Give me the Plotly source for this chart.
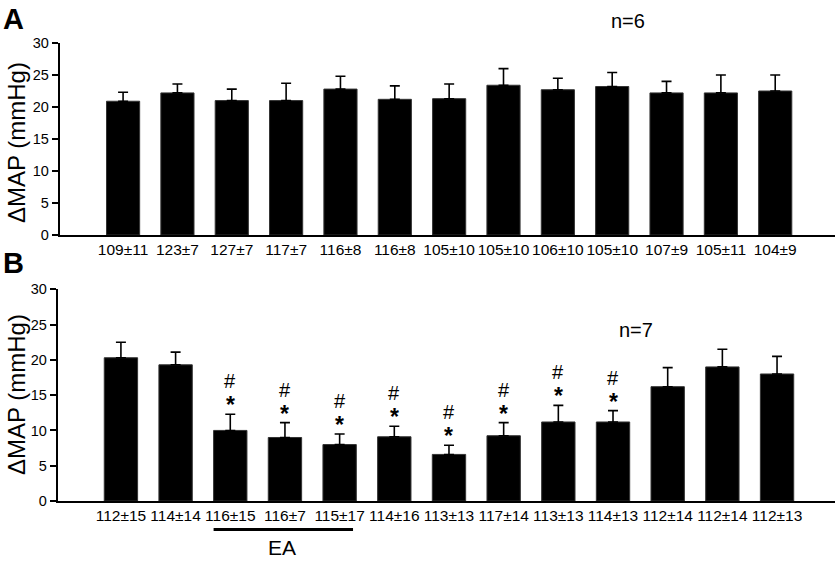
import plotly.graph_objects as go

labels_a = ["109±11", "123±7", "127±7", "117±7", "116±8", "116±8", "105±10",
            "105±10", "106±10", "105±10", "107±9", "105±11", "104±9"]
values_a = [20.9, 22.2, 21.0, 21.0, 22.8, 21.2, 21.3, 23.4, 22.7, 23.2, 22.2, 22.2, 22.5]
err_a = [1.4, 1.4, 1.8, 2.7, 2.0, 2.1, 2.3, 2.6, 1.8, 2.2, 1.8, 2.8, 2.5]

labels_b = ["112±15", "114±14", "116±15", "116±7", "115±17", "114±16", "113±13",
            "117±14", "113±13", "114±13", "112±14", "112±14", "112±13"]
values_b = [20.3, 19.3, 10.0, 9.0, 8.0, 9.1, 6.6, 9.25, 11.2, 11.2, 16.2, 19.0, 18.0]
err_b = [2.2, 1.8, 2.3, 2.1, 1.5, 1.5, 1.3, 1.85, 2.35, 1.6, 2.7, 2.5, 2.5]
sig_b = [False, False, True, True, True, True, True, True, True, True, False, False, False]
ea_range = [2, 4]

FONT = "Liberation Sans, Arial, sans-serif"
W, H = 836, 561
xs = list(range(len(values_a)))

fig = go.Figure()
for vals, errs, xa, ya in [(values_a, err_a, "x", "y"), (values_b, err_b, "x2", "y2")]:
    fig.add_trace(go.Bar(
        x=xs, y=vals, width=0.61, xaxis=xa, yaxis=ya,
        marker=dict(color="black", line=dict(color="#333333", width=1)),
        error_y=dict(type="data", symmetric=False, array=errs, arrayminus=[0] * len(errs),
                     color="black", thickness=1.6, width=5),
        showlegend=False, hoverinfo="skip",
    ))

def px_y(p):
    return 1 - p / H

axis_common = dict(showline=True, linecolor="black", linewidth=1.5, showgrid=False,
                   zeroline=False, automargin=False)
fig.update_layout(
    width=W, height=H, margin=dict(l=0, r=0, t=0, b=0, autoexpand=False),
    paper_bgcolor="white", plot_bgcolor="white", bargap=0.39,
    font=dict(family=FONT, color="black"),
    xaxis=dict(domain=[59.5 / W, 835 / W], range=[-1.17, 13.1], anchor="y",
               tickvals=xs, ticktext=labels_a, ticks="", tickfont=dict(size=15.5),
               **axis_common),
    yaxis=dict(domain=[px_y(235), px_y(43)], range=[0, 30], dtick=5, anchor="x",
               ticks="outside", ticklen=6, tickwidth=1.5, tickcolor="black",
               tickfont=dict(size=14.5), **axis_common),
    xaxis2=dict(domain=[57.5 / W, 835 / W], range=[-1.16, 13.06], anchor="y2",
                tickvals=xs, ticktext=labels_b, ticks="", tickfont=dict(size=15.5),
                **axis_common),
    yaxis2=dict(domain=[px_y(501), px_y(289.3)], range=[0, 30], dtick=5, anchor="x2",
                ticks="outside", ticklen=6, tickwidth=1.5, tickcolor="black",
                tickfont=dict(size=14.5), **axis_common),
)

ann = []
# panel letters
ann.append(dict(text="<b>A</b>", x=1 / W, y=px_y(19), xref="paper", yref="paper",
                xanchor="left", yanchor="middle", showarrow=False, font=dict(size=29)))
ann.append(dict(text="<b>B</b>", x=1 / W, y=px_y(263), xref="paper", yref="paper",
                xanchor="left", yanchor="middle", showarrow=False, font=dict(size=29)))
# y titles
for cy in (143, 395):
    ann.append(dict(text="ΔMAP (mmHg)", x=16 / W, y=px_y(cy), xref="paper", yref="paper",
                    xanchor="center", yanchor="middle", textangle=-90, showarrow=False,
                    font=dict(size=24)))
# n labels
ann.append(dict(text="n=6", x=628 / W, y=px_y(21), xref="paper", yref="paper",
                xanchor="center", yanchor="middle", showarrow=False, font=dict(size=20)))
ann.append(dict(text="n=7", x=636 / W, y=px_y(330), xref="paper", yref="paper",
                xanchor="center", yanchor="middle", showarrow=False, font=dict(size=20)))
# significance marks
for i, s in enumerate(sig_b):
    if s:
        top = values_b[i] + err_b[i]
        ann.append(dict(text="<b>*</b>", x=i, y=top, xref="x2", yref="y2", yanchor="middle",
                        yshift=9, showarrow=False, font=dict(size=23)))
        ann.append(dict(text="#", x=i, y=top, xref="x2", yref="y2", yanchor="middle",
                        yshift=33, showarrow=False, font=dict(size=20)))
# EA label
ann.append(dict(text="EA", x=(ea_range[0] + ea_range[1]) / 2 - 0.05, y=px_y(547), xref="x2",
                yref="paper", xanchor="center", yanchor="middle", showarrow=False,
                font=dict(size=21)))
fig.update_layout(annotations=ann)

fig.add_shape(type="line", xref="x2", yref="paper",
              x0=ea_range[0] - 0.305, x1=ea_range[1] + 0.245,
              y0=px_y(529.5), y1=px_y(529.5), line=dict(color="black", width=3))

fig.write_html("out.html", config={"displayModeBar": False},
               post_script="document.body.style.margin='0';")
